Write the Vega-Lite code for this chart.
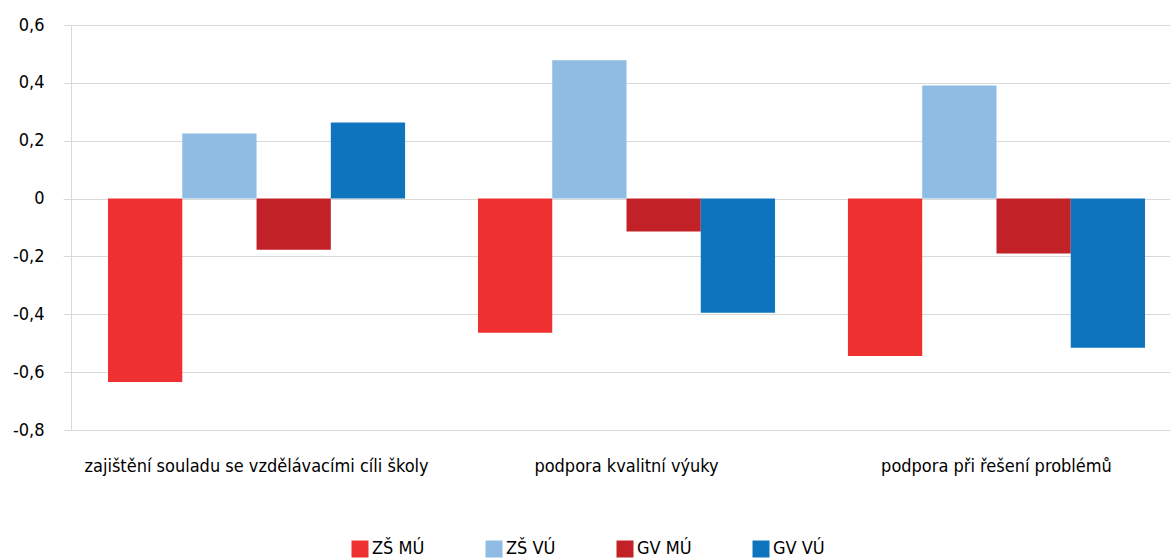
{
  "$schema": "https://vega.github.io/schema/vega-lite/v6.json",
  "width": 1099,
  "height": 405,
  "autosize": {"type": "none"},
  "padding": {"left": 71, "top": 25, "right": 0, "bottom": 128},
  "background": "white",
  "config": {
    "font": "DejaVu Sans Condensed",
    "view": {"stroke": null},
    "axis": {"labelFont": "DejaVu Sans Condensed", "labelColor": "#000000", "labelFontSize": 18}
  },
  "data": {
    "values": [
      {"kategorie": "zajištění souladu se vzdělávacími cíli školy", "skupina": "ZŠ MÚ", "hodnota": -0.634},
      {"kategorie": "zajištění souladu se vzdělávacími cíli školy", "skupina": "ZŠ VÚ", "hodnota": 0.225},
      {"kategorie": "zajištění souladu se vzdělávacími cíli školy", "skupina": "GV MÚ", "hodnota": -0.177},
      {"kategorie": "zajištění souladu se vzdělávacími cíli školy", "skupina": "GV VÚ", "hodnota": 0.263},
      {"kategorie": "podpora kvalitní  výuky", "skupina": "ZŠ MÚ", "hodnota": -0.464},
      {"kategorie": "podpora kvalitní  výuky", "skupina": "ZŠ VÚ", "hodnota": 0.478},
      {"kategorie": "podpora kvalitní  výuky", "skupina": "GV MÚ", "hodnota": -0.114},
      {"kategorie": "podpora kvalitní  výuky", "skupina": "GV VÚ", "hodnota": -0.395},
      {"kategorie": "podpora při  řešení problémů", "skupina": "ZŠ MÚ", "hodnota": -0.544},
      {"kategorie": "podpora při  řešení problémů", "skupina": "ZŠ VÚ", "hodnota": 0.391},
      {"kategorie": "podpora při  řešení problémů", "skupina": "GV MÚ", "hodnota": -0.19},
      {"kategorie": "podpora při  řešení problémů", "skupina": "GV VÚ", "hodnota": -0.516}
    ]
  },
  "mark": {"type": "bar"},
  "encoding": {
    "x": {
      "field": "kategorie",
      "type": "nominal",
      "sort": null,
      "scale": {"paddingInner": 0.197, "paddingOuter": 0.0838, "align": 0.597},
      "axis": {"title": null, "labelAngle": 0, "ticks": false, "domain": false, "labelPadding": 36, "labelBaseline": "middle", "labelLimit": 0}
    },
    "xOffset": {"field": "skupina", "type": "nominal", "sort": ["ZŠ MÚ", "ZŠ VÚ", "GV MÚ", "GV VÚ"], "scale": {"paddingInner": 0, "paddingOuter": 0}},
    "y": {
      "field": "hodnota",
      "type": "quantitative",
      "scale": {"domain": [-0.8, 0.6], "nice": false},
      "axis": {
        "title": null,
        "values": [-0.8, -0.6, -0.4, -0.2, 0, 0.2, 0.4, 0.6],
        "labelExpr": "datum.value == 0 ? '0' : replace(replace(format(datum.value, '.1f'), '.', ','), '\u2212', '-')",
        "gridColor": "#D9D9D9",
        "tickColor": "#D9D9D9",
        "domainColor": "#D9D9D9",
        "tickSize": 8,
        "labelPadding": 19
      }
    },
    "color": {
      "field": "skupina",
      "type": "nominal",
      "sort": ["ZŠ MÚ", "ZŠ VÚ", "GV MÚ", "GV VÚ"],
      "scale": {"domain": ["ZŠ MÚ", "ZŠ VÚ", "GV MÚ", "GV VÚ"], "range": ["#EE3130", "#8EBCE2", "#C32128", "#0E74BD"]},
      "legend": {
        "title": null,
        "orient": "none",
        "direction": "horizontal",
        "columns": 4,
        "legendX": 280,
        "legendY": 515,
        "symbolType": "square",
        "symbolSize": 289,
        "symbolStrokeWidth": 0,
        "symbolOpacity": 1,
        "labelFont": "DejaVu Sans Condensed",
        "labelFontSize": 18,
        "labelColor": "#000000",
        "labelOffset": 3,
        "columnPadding": 60
      }
    }
  }
}
